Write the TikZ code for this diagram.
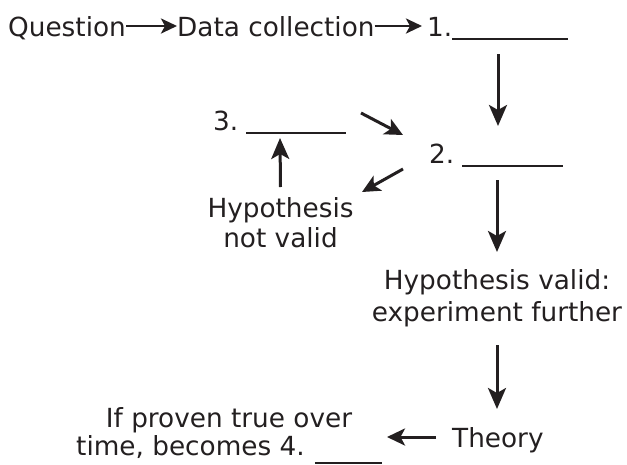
\documentclass[tikz,border=0pt]{standalone}
\usepackage{fontspec}
\setmainfont{DejaVu Sans}
\usetikzlibrary{arrows.meta}
\definecolor{ink}{RGB}{35,31,32}
\begin{document}
\begin{tikzpicture}[x=1pt,y=-1pt,
  every node/.style={inner sep=0pt, text=ink},
  lbl/.style={font=\fontsize{26.3}{30}\selectfont, anchor=base west},
  mlbl/.style={font=\fontsize{26.3}{#1}\selectfont, anchor=base, align=center},
  arr/.style={draw=ink, line width=3pt, -{Stealth[length=21pt,width=18pt,inset=5pt]}},
  sarr/.style={draw=ink, line width=2.8pt, -{Stealth[length=16pt,width=15pt,inset=4pt]}},
  darr/.style={draw=ink, line width=3pt, -{Stealth[length=18pt,width=17pt,inset=4.5pt]}}]
\useasboundingbox (0,0) rectangle (627,464);
\node[lbl] (q) at (8,36) {Question};
\node[lbl] (dc) at (177,36) {Data collection};
\node[lbl] (s1) at (427,36) {1.\rule[-4pt]{116pt}{1.7pt}};
\node[lbl] (s3) at (213,130) {3.\hspace{8pt}\rule[-4pt]{100pt}{1.7pt}};
\node[lbl] (s2) at (429,163) {2.\hspace{8pt}\rule[-4pt]{101pt}{1.7pt}};
\node[mlbl=30] (hnv) at (280.5,247) {Hypothesis\\not valid};
\node[mlbl=32] (hv) at (497,321) {Hypothesis valid:\\experiment further};
\node[mlbl=28] (ipt) at (229,455) {If proven true over\\time, becomes 4.\hspace{10pt}\rule[-8.5pt]{67pt}{1.7pt}};
\node[lbl] (th) at (452,447) {Theory};
% connectors
\draw[sarr] ([yshift=10pt]q.base east) -- ([yshift=10pt]dc.base west);
\draw[sarr] ([yshift=10pt]dc.base east) -- ([xshift=-5pt,yshift=10pt]s1.base west);
\draw[arr] ([xshift=71pt,yshift=-18pt]s1.base west) -- ([xshift=69pt,yshift=37pt]s2.base west);
\draw[darr] ([xshift=148pt,yshift=17pt]s3.base west) -- ([xshift=-26pt,yshift=28pt]s2.base west);
\draw[darr] ([xshift=-26pt,yshift=-6pt]s2.base west) -- ([xshift=81.5pt,yshift=55pt]hnv.base);
\draw[arr] ([yshift=60pt]hnv.base) -- ([xshift=67pt,yshift=-8pt]s3.base west);
\draw[arr] ([xshift=68pt,yshift=-17pt]s2.base west) -- ([yshift=69pt]hv.base);
\draw[arr] ([yshift=-24pt]hv.base) -- ([xshift=45pt,yshift=38pt]th.base west);
\draw[darr] ([xshift=-16pt,yshift=10pt]th.base west) -- ([xshift=158pt,yshift=18pt]ipt.base);
\end{tikzpicture}
\end{document}
